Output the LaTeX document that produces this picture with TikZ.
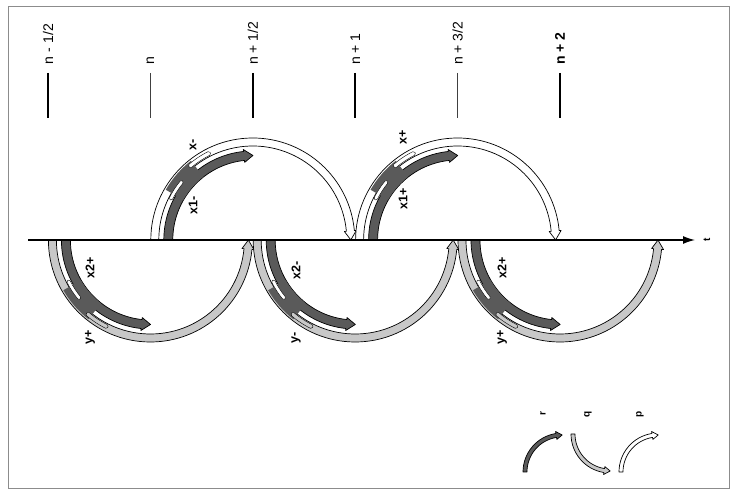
\documentclass[tikz,border=0pt]{standalone}
\usepackage{fontspec}
\setmainfont{Liberation Sans}
\usetikzlibrary{arrows.meta}
\definecolor{darkfill}{HTML}{5A5A5A}
\definecolor{lightfill}{HTML}{C8C8C8}
\tikzset{
  arcline/.style={draw=black, line width=0.7pt, line join=round},
  darkband/.style={arcline, fill=darkfill},
  lightband/.style={arcline, fill=lightfill},
  whiteband/.style={arcline, fill=white},
  slit/.style={fill=white, draw=black, line width=0.4pt, rounded corners=1.5pt},
  patch/.style={fill=darkfill, draw=black, line width=0.5pt},
  lbl/.style={font=\bfseries\fontsize{12.5}{12.5}\selectfont, rotate=90, inner sep=0pt},
  ticklbl/.style={font=\fontsize{14}{14}\selectfont, rotate=90, anchor=west, inner sep=0pt},
  tickthick/.style={line width=1.6pt, black},
  tickthin/.style={line width=0.9pt, black!75},
  axisline/.style={line width=1.3pt, -{Latex[length=12pt,width=8pt]}},
}
% annular arrow: #1 cx, #2 cy, #3 rin, #4 rout, #5 a1, #6 a2, #7 style, #8 head length
\newcommand\bandarrow[8]{%
  \pgfmathsetmacro\bsign{(#6>#5)*2-1}%
  \pgfmathsetmacro\bmid{(#3+#4)/2}%
  \pgfmathsetmacro\btip{#6+\bsign*#8/\bmid*57.2958}%
  \draw[#7, shift={(#1,#2)}] (#5:#4) arc[start angle=#5, end angle=#6, radius=#4]
    -- ({#6}:{#4+2}) -- ({\btip}:{\bmid}) -- ({#6}:{#3-2}) -- ({#6}:{#3})
    arc[start angle=#6, end angle=#5, radius=#3] -- cycle;
}
% annular sector: #1 cx, #2 cy, #3 rin, #4 rout, #5 a1, #6 a2, #7 style
\newcommand\sector[7]{%
  \path[#7, shift={(#1,#2)}] (#5:#4) arc[start angle=#5, end angle=#6, radius=#4]
    -- ({#6}:{#3}) arc[start angle=#6, end angle=#5, radius=#3] -- cycle;
}
% upper pair (white + dark) centred at #1
\newcommand\upperpair[1]{%
  \bandarrow{#1}{255}{94}{102}{180}{5.3}{whiteband}{9}
  \bandarrow{#1}{255}{80}{89}{180}{96}{darkband}{9}
  \sector{#1}{255}{80.35}{100.5}{128}{150}{fill=darkfill}
  \sector{#1}{255}{90}{93.5}{140}{154}{slit}
  \sector{#1}{255}{95}{99}{116}{131}{slit}
}
% lower pair (light + dark) centred at #1
\newcommand\lowerpair[1]{%
  \bandarrow{#1}{255}{94}{102}{180}{354.7}{lightband}{9}
  \bandarrow{#1}{255}{80}{89}{180}{264}{darkband}{9}
  \sector{#1}{255}{80.35}{100.5}{210}{232}{fill=darkfill}
  \sector{#1}{255}{90}{93.5}{206}{220}{slit}
  \sector{#1}{255}{95}{99}{229}{244}{slit, fill=lightfill}
}
\begin{document}
\begin{tikzpicture}[x=1pt,y=1pt]
\useasboundingbox (0,0) rectangle (737,495);
\draw[black!45, line width=0.6pt] (8,7) rectangle (729,489);

% ticks and their labels
\draw[tickthick] (48,422) -- (48,377);
\draw[tickthin] (150.4,422) -- (150.4,377);
\draw[tickthick] (252.8,422) -- (252.8,377);
\draw[tickthick] (355.2,422) -- (355.2,377);
\draw[tickthin] (457.6,422) -- (457.6,377);
\draw[tickthick] (560,422) -- (560,377);
\node[ticklbl] (tA) at (48,430) {n\,\,-\,\,1/2};
\node[ticklbl] (tB) at (150.4,430) {n};
\node[ticklbl] (tC) at (252.8,430) {n + 1/2};
\node[ticklbl] (tD) at (355.2,430) {n + 1};
\node[ticklbl] (tE) at (457.6,430) {n + 3/2};
\node[ticklbl, font=\bfseries\fontsize{14}{14}\selectfont] (tF) at (560,430) {n + 2};

% arcs
\upperpair{252.8}
\upperpair{457.6}
\lowerpair{150.4}
\lowerpair{355.2}
\lowerpair{560}

% time axis
\coordinate (axs) at (28,255);
\coordinate (axe) at (695,255);
\draw[axisline] (axs) -- (axe);
\node[lbl, font=\bfseries\fontsize{10}{10}\selectfont] (tlab) at (707,255) {t};

% arc labels
\node[lbl] (lxm) at (193,350) {x-};
\node[lbl] (lx1m) at (193,290) {x1-};
\node[lbl] (lxp) at (403,358) {x+};
\node[lbl] (lx1p) at (403,296) {x1+};
\node[lbl] (lx2a) at (90,227) {x2+};
\node[lbl] (lya) at (90,158) {y+};
\node[lbl] (lx2b) at (296,225) {x2-};
\node[lbl] (lyb) at (296,157) {y-};
\node[lbl] (lx2c) at (502,227) {x2+};
\node[lbl] (lyc) at (502,158) {y+};

% legend
\bandarrow{562}{23}{35}{39}{180}{99}{darkband}{6}
\bandarrow{610}{61}{35}{39}{180}{261}{lightband}{6}
\bandarrow{658}{23}{35}{39}{180}{99}{whiteband}{6}
\node[lbl, font=\bfseries\fontsize{10}{10}\selectfont] (lr) at (543,81) {r};
\node[lbl, font=\bfseries\fontsize{10}{10}\selectfont] (lq) at (588,81) {q};
\node[lbl, font=\bfseries\fontsize{10}{10}\selectfont] (lp) at (640,81) {p};
\end{tikzpicture}
\end{document}
